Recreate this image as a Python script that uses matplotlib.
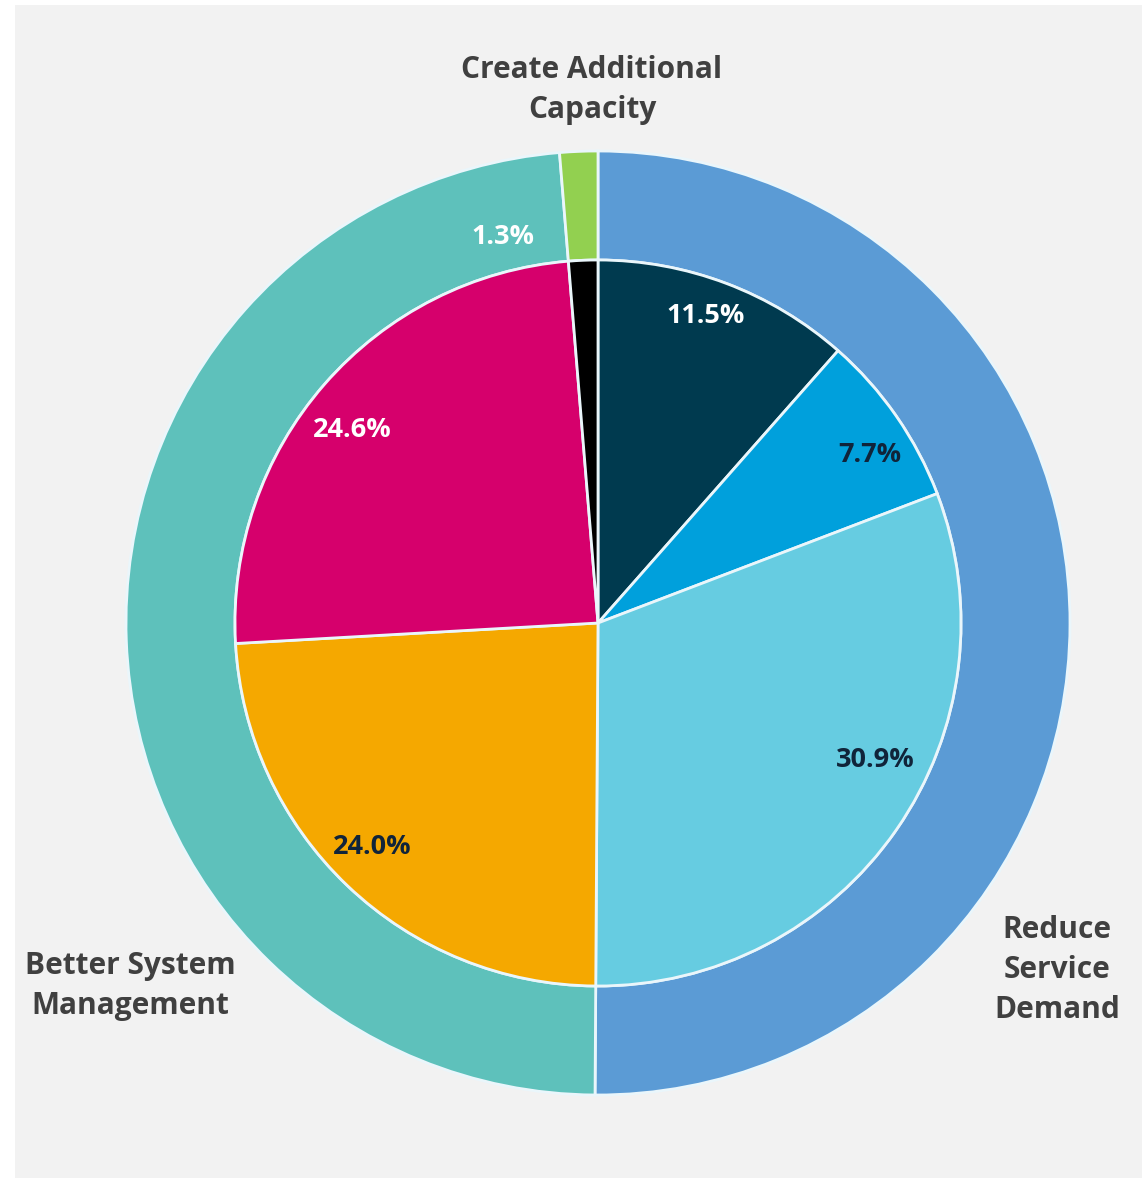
import matplotlib
matplotlib.use("Agg")
import matplotlib.pyplot as plt
from matplotlib.patches import Rectangle

plt.rcParams['font.family'] = ['Open Sans', 'DejaVu Sans']

# outer ring: strategy groups
groups = ["Reduce\nService\nDemand", "Better System\nManagement", "Create Additional\nCapacity"]
group_values = [50.1, 48.6, 1.3]
group_colors = ["#5b9bd5", "#5ec1bb", "#92d050"]

# inner pie: individual shares
shares = [11.5, 7.7, 30.9, 24.0, 24.6, 1.3]
share_labels = ["11.5%", "7.7%", "30.9%", "24.0%", "24.6%", "1.3%"]
share_colors = ["#003a4f", "#00a0dc", "#66cce1", "#f5a800", "#d6006c", "#000000"]
share_text_colors = ["white", "#10243a", "#10243a", "#10243a", "white", "white"]

W, H = 1142, 1178
fig = plt.figure(figsize=(W / 100, H / 100), dpi=100, facecolor="white")
ax = fig.add_axes([0, 0, 1, 1])

ax.add_patch(Rectangle((15, 0), W - 15, H - 5, facecolor="#f2f2f2", edgecolor="none", zorder=0))

cx, cy = 598, H - 623
r_out, r_in = 472, 363

ax.pie(group_values, colors=group_colors, startangle=90, counterclock=False,
       radius=r_out, center=(cx, cy), frame=True,
       wedgeprops=dict(width=r_out - r_in, edgecolor="#eaf6fb", linewidth=2))
ax.pie(shares, colors=share_colors, startangle=90, counterclock=False,
       radius=r_in, center=(cx, cy), frame=True,
       wedgeprops=dict(edgecolor="#eaf6fb", linewidth=2))
ax.set_xlim(0, W)
ax.set_ylim(0, H)
ax.axis("off")

# percentage labels (pixel positions)
label_pos = [(706, 316), (870, 455), (875, 760), (372, 847), (352, 430), (503, 237)]
for (x, y), txt, c in zip(label_pos, share_labels, share_text_colors):
    ax.text(x, H - y, txt, ha="center", va="center", color=c,
            fontsize=19.5, fontweight="bold")

group_pos = [(1057, 970), (130, 986), (592, 90)]
for (x, y), txt in zip(group_pos, groups):
    ax.text(x, H - y, txt, ha="center", va="center", color="#404040",
            fontsize=21.5, fontweight="bold", linespacing=1.42)

fig.savefig("out.png", dpi=100, facecolor="white")
